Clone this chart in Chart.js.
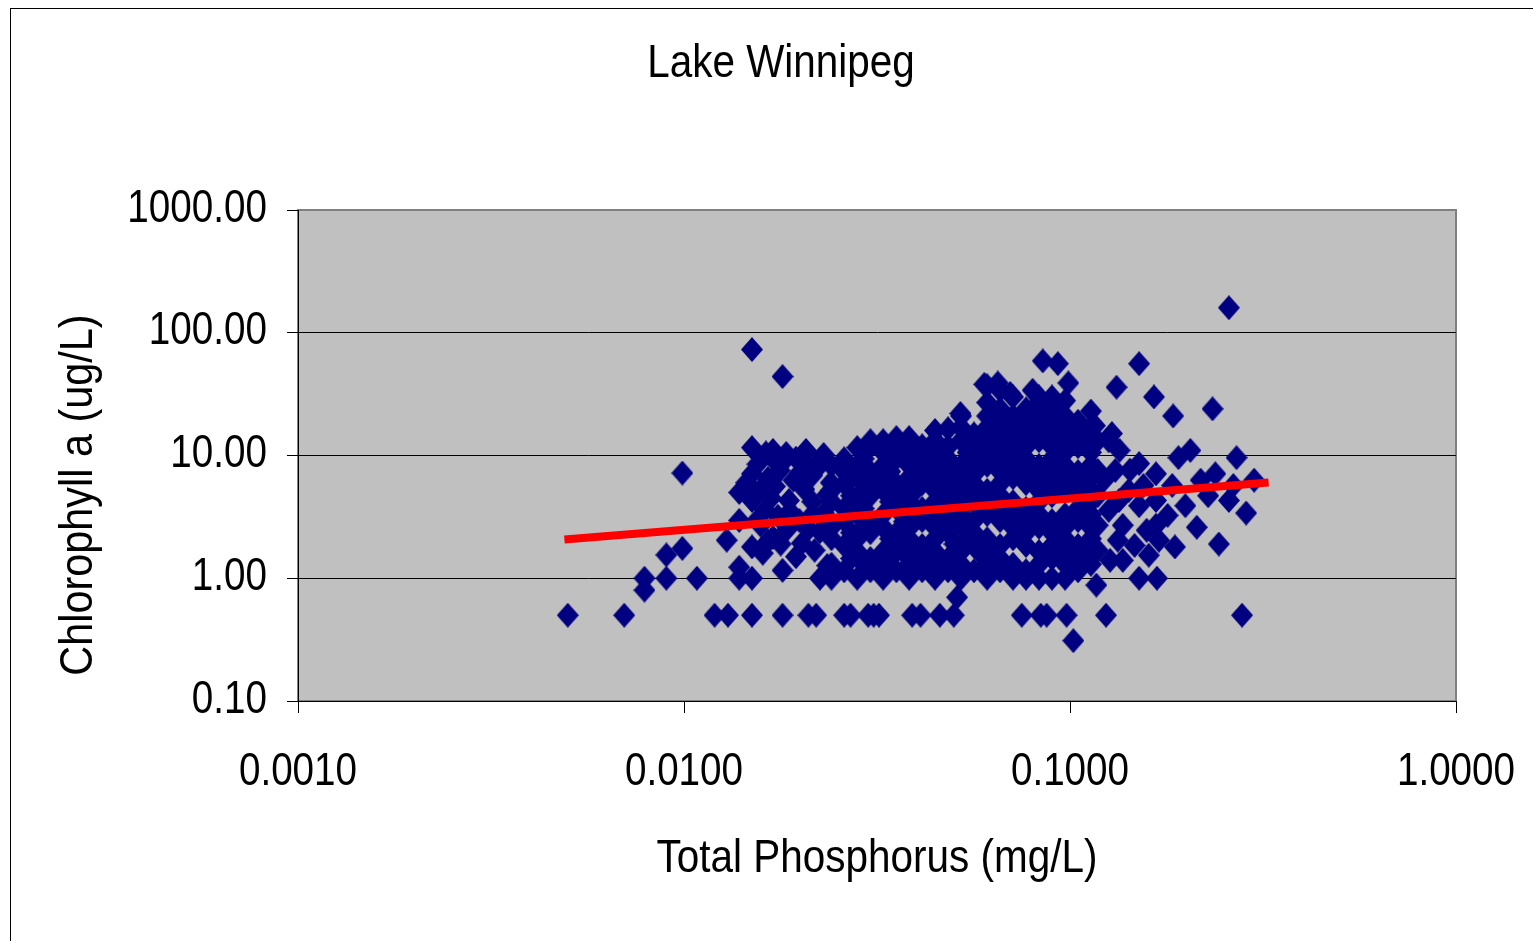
<!DOCTYPE html>
<html lang="en">
<head>
    <meta charset="UTF-8">
    <title>Lake Winnipeg</title>
    <script src="https://cdn.jsdelivr.net/npm/chart.js"></script>
    <style>
        html, body { margin: 0; padding: 0; background: #fff; }
        canvas { display: block; }
    </style>
</head>
<body>
    <canvas id="tpChart" width="1533" height="941"></canvas>

    <script>
        // axis ticks
        const xTickValues = [0.001, 0.01, 0.1, 1];
        const yTickValues = [0.1, 1, 10, 100, 1000];

        // isolated points on the left and the high outliers
        const leftTail = [
            [0.005, 0.5], [0.007, 0.5], [0.0079, 1.0], [0.0079, 0.8], [0.009, 1.55], [0.009, 1.0],
            [0.0099, 1.75], [0.0099, 7.2], [0.0108, 1.0], [0.015, 73], [0.018, 44]
        ];

        // the row at the detection limit (0.5) and other low readings
        const lowRow = [
            [0.012, 0.5], [0.013, 0.5], [0.015, 0.5], [0.018, 0.5], [0.021, 0.5], [0.022, 0.5],
            [0.026, 0.5], [0.027, 0.5], [0.030, 0.5], [0.031, 0.5], [0.032, 0.5], [0.039, 0.5],
            [0.041, 0.5], [0.046, 0.5], [0.050, 0.5], [0.075, 0.5], [0.084, 0.5], [0.087, 0.5],
            [0.098, 0.5], [0.124, 0.5], [0.279, 0.5],
            [0.051, 0.7], [0.102, 0.31], [0.117, 0.88]
        ];

        // 0.013 - 0.024 mg/L
        const earlyGroup = [
            [0.0129, 2.04], [0.0139, 5.0], [0.0139, 2.96], [0.0139, 1.23], [0.0139, 1.0], [0.015, 7.1],
            [0.015, 11.6], [0.015, 1.0], [0.015, 4.3], [0.015, 1.8], [0.0145, 6.0], [0.0157, 5.2],
            [0.0155, 8.5], [0.016, 1.6], [0.0158, 2.7], [0.0162, 3.6], [0.0163, 10.5], [0.0165, 6.5],
            [0.0168, 4.5], [0.017, 2.15], [0.017, 11], [0.0172, 9.0], [0.0175, 3.2], [0.0177, 7.55],
            [0.0178, 1.9], [0.018, 1.16], [0.018, 8.8], [0.0184, 10.4], [0.0185, 2.5], [0.0187, 4.3],
            [0.0192, 6.3], [0.0195, 9.5], [0.0195, 1.5], [0.0199, 2.96], [0.0202, 1.93], [0.0205, 5.3],
            [0.0207, 11], [0.021, 8.3], [0.021, 2.5], [0.0215, 4.2], [0.0215, 3.3], [0.0215, 6.9],
            [0.0218, 1.69], [0.0222, 8.0], [0.0225, 2.4], [0.0225, 1.0], [0.0225, 9.3], [0.023, 10.2],
            [0.023, 3.4], [0.0235, 1.27], [0.0235, 4.8], [0.024, 6.0],
            [0.0165, 2.0], [0.0188, 3.5], [0.02, 7.2], [0.0172, 5.6], [0.0155, 3.0]
        ];

        // dense middle: TP value, then the chlorophyll readings at that TP
        const denseColumns = [
            [0.0241, [1.0, 1.3, 2.1, 2.6, 4.2, 5.2, 8.3]],
            [0.026,  [1.15, 1.85, 2.95, 3.7, 5.9, 7.4, 9.4]],
            [0.0271, [1.45, 2.35, 4.7, 6.6]],
            [0.0281, [1.0, 1.65, 2.1, 3.3, 4.2, 6.6, 8.3, 11.6]],
            [0.0292, [1.3, 2.6, 3.7, 5.2, 9.4]],
            [0.0304, [1.15, 1.45, 2.35, 2.95, 4.7, 5.9, 7.4, 11.8, 13.2]],
            [0.0328, [1.0, 1.3, 1.65, 2.6, 3.3, 5.2, 6.6, 8.3, 10.6, 13.2]],
            [0.0342, [1.45, 2.1, 4.2, 7.4, 11.8]],
            [0.0355, [1.15, 1.85, 2.35, 3.7, 4.7, 5.9, 9.4, 11.8, 14]],
            [0.0372, [1.6, 2.9, 4.8]],
            [0.0383, [1.0, 1.3, 2.1, 2.6, 3.3, 4.2, 6.6, 8.3, 10.6, 14]],
            [0.0398, [1.65, 2.95, 5.2, 9.4]],
            [0.0414, [1.15, 1.45, 1.85, 2.95, 3.7, 5.9, 7.4, 9.4, 12]],
            [0.0432, [1.35, 3.0, 7.8]],
            [0.0447, [1.0, 1.65, 2.1, 2.6, 4.2, 5.2, 6.6, 10.6, 13.2, 16]],
            [0.0465, [1.3, 3.3, 5.9, 8.3]],
            [0.0483, [1.15, 1.45, 2.35, 2.95, 3.7, 4.7, 7.4, 9.4, 11.8, 16.5]],
            [0.0502, [1.9, 4.4, 6.0]],
            [0.0522, [1.0, 1.3, 1.65, 2.6, 3.3, 5.2, 6.6, 8.3, 13.2, 16.9, 21]],
            [0.0543, [2.1, 4.2, 10.6]],
            [0.0564, [1.15, 1.85, 2.35, 2.95, 4.7, 5.9, 7.4, 9.4, 11.8, 15]],
            [0.0585, [1.6, 3.6, 8.0]],
            [0.061,  [1.0, 1.3, 1.65, 2.1, 3.3, 4.2, 5.2, 8.3, 10.6, 13.2, 16.9, 21, 27, 37]],
            [0.0659, [1.15, 1.45, 1.85, 2.95, 3.7, 4.7, 5.9, 7.4, 9.4, 11.8, 15, 19, 24, 34]],
            [0.0712, [1.0, 1.3, 2.1, 2.6, 3.3, 4.2, 6.6, 8.3, 10.6, 13.2, 16.9, 21, 30]],
            [0.0769, [1.0, 1.15, 1.85, 2.35, 2.95, 3.7, 5.9, 7.4, 9.4, 11.8, 15, 19, 23]],
            [0.0831, [1.0, 1.3, 1.65, 2.6, 3.3, 4.2, 5.2, 6.6, 8.3, 13.2, 16.9, 21, 27, 30]],
            [0.0898, [1.0, 1.45, 1.85, 2.35, 2.95, 4.7, 5.9, 7.4, 9.4, 11.8, 15, 19, 24, 30]],
            [0.0971, [1.0, 1.3, 1.65, 2.1, 2.6, 3.3, 5.2, 6.6, 8.3, 10.6, 13.2, 16.9, 21, 28]],
            [0.1049, [1.15, 1.45, 1.85, 2.95, 3.7, 4.7, 5.9, 7.4, 11.8, 15, 19]],
            [0.1133, [1.3, 1.65, 2.1, 2.6, 3.3, 4.2, 5.2, 6.6, 8.3, 10.6, 13.2, 16.9, 23]]
        ];

        // scattered points above the dense part
        const upperScatter = [
            [0.085, 59], [0.093, 56], [0.099, 39], [0.06, 38], [0.065, 39], [0.07, 32],
            [0.052, 22], [0.08, 34], [0.077, 24]
        ];

        // 0.11 - 0.3 mg/L
        const rightGroup = [
            [0.1284, 15.1], [0.1344, 11], [0.131, 7.55], [0.151, 8.6], [0.142, 5.2], [0.126, 3.57],
            [0.137, 2.7], [0.151, 3.9], [0.158, 2.46], [0.133, 2.04], [0.147, 1.85], [0.118, 1.69],
            [0.118, 2.7], [0.118, 4.7], [0.118, 7.55], [0.118, 13.2], [0.116, 17.5], [0.126, 13.2],
            [0.167, 7.1], [0.167, 4.3], [0.167, 2.7], [0.17, 2.04], [0.191, 9.6], [0.205, 11],
            [0.184, 5.7], [0.199, 3.9], [0.179, 3.25], [0.213, 2.6], [0.187, 1.8], [0.218, 6.3],
            [0.228, 4.7], [0.238, 7.1], [0.243, 1.9], [0.258, 4.3], [0.27, 9.6], [0.3, 6.3],
            [0.286, 3.4], [0.265, 5.7], [0.151, 1.0], [0.168, 1.0], [0.1225, 6.3], [0.134, 4.3],
            [0.143, 7.6], [0.155, 5.7], [0.127, 1.4], [0.137, 1.4], [0.16, 1.54],
            [0.258, 160], [0.151, 56], [0.132, 36], [0.165, 30], [0.185, 21], [0.234, 24]
        ];

        // power trend line end points
        const trendTP = [0.0049, 0.327];
        const trendChl = [2.07, 6.03];

        const FONT = "'Liberation Sans', Arial, sans-serif";
        Chart.defaults.font.family = FONT;
        Chart.defaults.color = '#000';

        const points = [];
        [leftTail, lowRow, earlyGroup, upperScatter, rightGroup].forEach(group => {
            group.forEach(p => points.push({ x: p[0], y: p[1] }));
        });
        denseColumns.forEach(col => {
            col[1].forEach(v => points.push({ x: col[0], y: v }));
        });

        // diamond marker, a little taller than wide like the original
        const diamond = document.createElement('canvas');
        diamond.width = 22;
        diamond.height = 25;
        const dctx = diamond.getContext('2d');
        dctx.fillStyle = '#000080';
        dctx.beginPath();
        dctx.moveTo(11, 0);
        dctx.lineTo(22, 12.5);
        dctx.lineTo(11, 25);
        dctx.lineTo(0, 12.5);
        dctx.closePath();
        dctx.fill();

        // the original text is a narrow face, so squeeze it horizontally
        function narrowText(ctx, text, x, y, size, squeeze, align, angle) {
            ctx.save();
            ctx.translate(x, y);
            if (angle) ctx.rotate(angle);
            ctx.scale(squeeze, 1);
            ctx.font = size + 'px ' + FONT;
            ctx.fillStyle = '#000';
            ctx.textAlign = align;
            ctx.textBaseline = 'middle';
            ctx.fillText(text, 0, 0);
            ctx.restore();
        }

        const framePlugin = {
            id: 'frame',
            beforeDraw(chart) {
                const { ctx, chartArea: a } = chart;
                ctx.save();
                ctx.fillStyle = '#fff';
                ctx.fillRect(0, 0, chart.width, chart.height);
                ctx.strokeStyle = '#000';
                ctx.lineWidth = 1;
                ctx.strokeRect(10.5, 8.5, chart.width + 20, chart.height + 20);
                ctx.fillStyle = '#c0c0c0';
                ctx.fillRect(a.left, a.top, a.right - a.left, a.bottom - a.top);
                ctx.strokeStyle = '#808080';
                ctx.lineWidth = 2;
                ctx.strokeRect(a.left, a.top, a.right - a.left, a.bottom - a.top);
                ctx.restore();
            },
            afterDraw(chart) {
                const ctx = chart.ctx;
                const xs = chart.scales.x;
                const ys = chart.scales.y;
                xTickValues.forEach(v => {
                    narrowText(ctx, v.toFixed(4), xs.getPixelForValue(v), 772, 46, 0.84, 'center');
                });
                yTickValues.forEach(v => {
                    narrowText(ctx, v.toFixed(2), 267, ys.getPixelForValue(v) - 1, 46, 0.84, 'right');
                });
                narrowText(ctx, 'Lake Winnipeg', 781, 64, 47, 0.86, 'center');
                narrowText(ctx, 'Total Phosphorus (mg/L)', 877, 859, 46, 0.88, 'center');
                narrowText(ctx, 'Chlorophyll a (ug/L)', 79, 495, 46, 0.9, 'center', -Math.PI / 2);
            }
        };

        const ctx = document.getElementById('tpChart').getContext('2d');
        new Chart(ctx, {
            type: 'scatter',
            data: {
                datasets: [
                    {
                        type: 'line',
                        label: 'Trend',
                        data: trendTP.map((x, i) => ({ x: x, y: trendChl[i] })),
                        borderColor: '#ff0000',
                        borderWidth: 8,
                        pointRadius: 0,
                        fill: false,
                        tension: 0
                    },
                    {
                        label: 'Lake Winnipeg',
                        data: points,
                        pointStyle: diamond,
                        pointRadius: 11,
                        backgroundColor: '#000080'
                    }
                ]
            },
            options: {
                responsive: false,
                animation: false,
                devicePixelRatio: 1,
                layout: { padding: { left: 0, top: 210, right: 77, bottom: 0 } },
                plugins: {
                    legend: { display: false },
                    tooltip: { enabled: false }
                },
                scales: {
                    x: {
                        type: 'logarithmic',
                        min: 0.001,
                        max: 1,
                        afterBuildTicks: s => { s.ticks = xTickValues.map(v => ({ value: v })); },
                        afterFit: s => { s.height = 240; },
                        ticks: { display: false },
                        grid: {
                            drawOnChartArea: false,
                            drawTicks: true,
                            tickLength: 12,
                            tickColor: '#000',
                            color: '#000'
                        },
                        border: { display: true, color: '#000', width: 1 }
                    },
                    y: {
                        type: 'logarithmic',
                        min: 0.1,
                        max: 1000,
                        afterBuildTicks: s => { s.ticks = yTickValues.map(v => ({ value: v })); },
                        afterFit: s => { s.width = 298; },
                        ticks: { display: false },
                        grid: {
                            drawTicks: true,
                            tickLength: 11,
                            tickColor: '#000',
                            color: c => (c.tick && c.tick.value === 1000) ? '#808080' : '#000',
                            lineWidth: 1
                        },
                        border: { display: true, color: '#000', width: 1 }
                    }
                }
            },
            plugins: [framePlugin]
        });
    </script>
</body>
</html>
